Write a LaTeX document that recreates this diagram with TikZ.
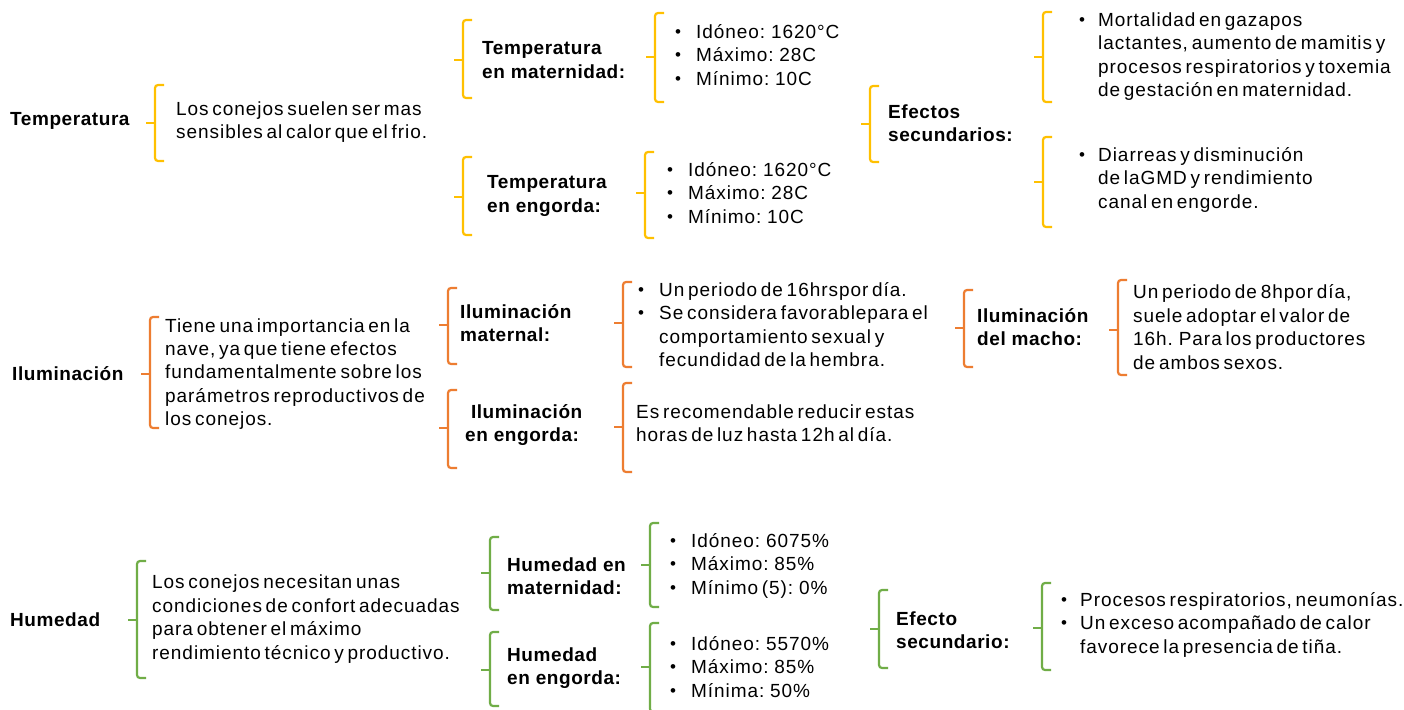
\documentclass[tikz,border=0pt]{standalone}
\usepackage{fontspec}
\setmainfont{Liberation Sans}[LetterSpace=5,WordSpace=0.6,
  BoldFeatures={LetterSpace=3,WordSpace=1}]
\usetikzlibrary{arrows}

\definecolor{tempc}{HTML}{FFC000}
\definecolor{ilumc}{HTML}{ED7D31}
\definecolor{humc}{HTML}{70AD47}

% colour, x, top, bottom, tick
\newcommand{\sidebrace}[5]{%
  \draw[#1, line width=2.2pt, rounded corners=3pt] (#2+9,#3) -- (#2,#3) -- (#2,#4) -- (#2+9,#4);
  \draw[#1, line width=2.2pt] (#2,#5) -- (#2-9,#5);}
\newcommand{\dotb}{\raisebox{0.1ex}{\fontsize{17}{17}\selectfont •}}

\begin{document}
\begin{tikzpicture}[x=1pt,y=-1pt]

  \tikzstyle{txt}  = [anchor=west, align=left, inner sep=0pt, font=\fontsize{19}{23.4}\selectfont]
  \tikzstyle{head} = [txt, font=\fontsize{19}{23.4}\selectfont\bfseries]
  \useasboundingbox[fill=white] (0,0) rectangle (1404,709);

  % Temperatura
  \node[head] (tempT)   at (10,121)  {Temperatura};
  \node[txt]  (tempD)   at (176,122) {Los conejos suelen ser mas\\sensibles al calor que el frio.};
  \node[head] (tempMat) at (482,60)  {Temperatura\\en maternidad:};
  \node[txt]  (tempMatV) at (675,57) {\begin{tabular}{@{}l@{\hspace{15pt}}l@{}}
      \dotb & Idóneo: 1620°C\\ \dotb & Máximo: 28C\\ \dotb & Mínimo: 10C\end{tabular}};
  \node[head] (tempEng) at (487,196) {Temperatura\\en engorda:};
  \node[txt]  (tempEngV) at (667,195) {\begin{tabular}{@{}l@{\hspace{15pt}}l@{}}
      \dotb & Idóneo: 1620°C\\ \dotb & Máximo: 28C\\ \dotb & Mínimo: 10C\end{tabular}};
  \node[head] (tempEf)  at (888,123) {Efectos\\secundarios:};
  \node[txt]  (tempEfM) at (1079,57) {\begin{tabular}{@{}l@{\hspace{13pt}}l@{}}
      \dotb & Mortalidad en gazapos\\ & lactantes, aumento de mamitis y\\
        & procesos respiratorios y toxemia\\ & de gestación en maternidad.\end{tabular}};
  \node[txt]  (tempEfE) at (1079,180) {\begin{tabular}{@{}l@{\hspace{13pt}}l@{}}
      \dotb & Diarreas y disminución\\ & de laGMD y rendimiento\\ & canal en engorde.\end{tabular}};

  \sidebrace{tempc}{155}{85}{161}{123}
  \sidebrace{tempc}{463}{20}{98}{60}
  \sidebrace{tempc}{655}{13}{102}{57}
  \sidebrace{tempc}{463}{157}{235}{197}
  \sidebrace{tempc}{645}{152}{238}{193}
  \sidebrace{tempc}{870}{86}{162}{124}
  \sidebrace{tempc}{1043}{12}{102}{57}
  \sidebrace{tempc}{1043}{137}{227}{182}

  % Iluminacion
  \node[head] (ilumI)   at (12,374)  {Iluminación};
  \node[txt]  (ilumD)   at (165,374) {Tiene una importancia en la\\nave, ya que tiene efectos\\fundamentalmente sobre los\\parámetros reproductivos de\\los conejos.};
  \node[head] (ilumMat) at (460,323) {Iluminación\\maternal:};
  \node[txt]  (ilumMatV) at (638,327) {\begin{tabular}{@{}l@{\hspace{15pt}}l@{}}
      \dotb & Un periodo de 16hrspor día.\\ \dotb & Se considera favorablepara el\\
        & comportamiento sexual y\\ & fecundidad de la hembra.\end{tabular}};
  \node[head] (ilumEng) at (465,425) {\ Iluminación\\en engorda:};
  \node[txt]  (ilumEngV) at (636,423) {Es recomendable reducir estas\\horas de luz hasta 12h al día.};
  \node[head] (ilumMac) at (977,327) {Iluminación\\del macho:};
  \node[txt]  (ilumMacV) at (1133,327) {Un periodo de 8hpor día,\\suele adoptar el valor de\\16h. Para los productores\\de ambos sexos.};

  \sidebrace{ilumc}{150}{317}{428}{374}
  \sidebrace{ilumc}{448}{288}{364}{325}
  \sidebrace{ilumc}{448}{390}{468}{428}
  \sidebrace{ilumc}{623}{282}{367}{323}
  \sidebrace{ilumc}{623}{383}{472}{427}
  \sidebrace{ilumc}{964}{290}{367}{328}
  \sidebrace{ilumc}{1118}{280}{375}{330}

  % Humedad
  \node[head] (humH)    at (10,620)  {Humedad};
  \node[txt]  (humD)    at (152,619) {Los conejos necesitan unas\\condiciones de confort adecuadas\\para obtener el máximo\\rendimiento técnico y productivo.};
  \node[head] (humMat)  at (507,576) {Humedad en\\maternidad:};
  \node[txt]  (humMatV) at (670,566) {\begin{tabular}{@{}l@{\hspace{15pt}}l@{}}
      \dotb & Idóneo: 6075\%\\ \dotb & Máximo: 85\%\\ \dotb & Mínimo (5): 0\%\end{tabular}};
  \node[head] (humEng)  at (507,668) {Humedad\\en engorda:};
  \node[txt]  (humEngV) at (670,669) {\begin{tabular}{@{}l@{\hspace{15pt}}l@{}}
      \dotb & Idóneo: 5570\%\\ \dotb & Máximo: 85\%\\ \dotb & Mínima: 50\%\end{tabular}};
  \node[head] (humEf)   at (896,630) {Efecto\\secundario:};
  \node[txt]  (humEfV)  at (1061,625) {\begin{tabular}{@{}l@{\hspace{13pt}}l@{}}
      \dotb & Procesos respiratorios, neumonías.\\ \dotb & Un exceso acompañado de calor\\
        & favorece la presencia de tiña.\end{tabular}};

  \sidebrace{humc}{137}{561}{678}{620}
  \sidebrace{humc}{490}{537}{610}{573}
  \sidebrace{humc}{650}{523}{607}{565}
  \sidebrace{humc}{490}{632}{706}{670}
  \sidebrace{humc}{650}{623}{712}{667}
  \sidebrace{humc}{879}{590}{668}{629}
  \sidebrace{humc}{1042}{583}{670}{628}

\end{tikzpicture}
\end{document}
